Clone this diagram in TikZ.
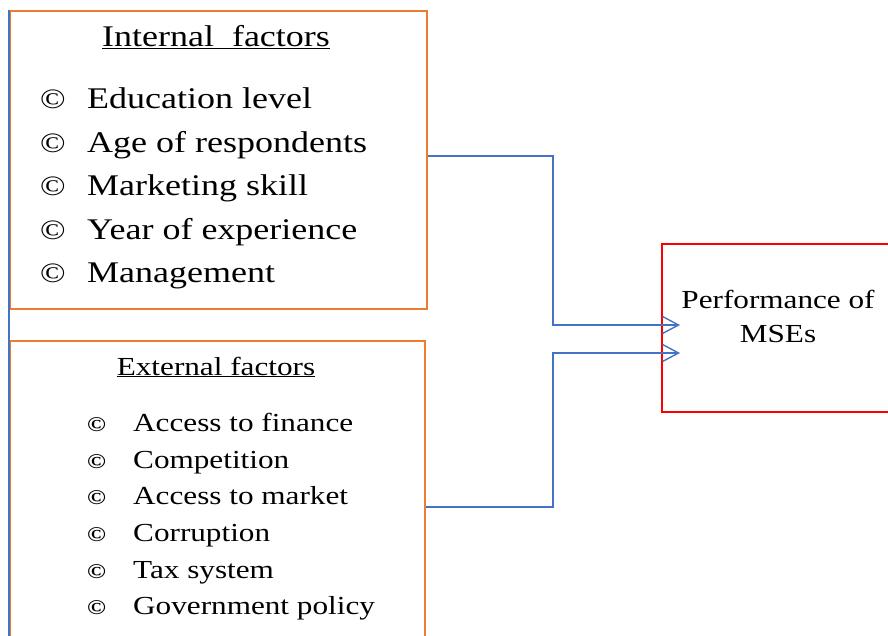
\documentclass[tikz,border=0pt]{standalone}
\usepackage{fontspec}
\setmainfont{Liberation Serif}[FakeStretch=1.2]
\usetikzlibrary{arrows.meta}
\definecolor{borange}{RGB}{237,125,49}
\definecolor{bblue}{RGB}{68,114,196}
\definecolor{bred}{RGB}{255,0,0}
\tikzset{
  frame/.style={draw=borange, line width=1.8pt, inner sep=0pt, anchor=north west},
  redframe/.style={draw=bred, line width=1.8pt, inner sep=0pt, anchor=north west},
  link/.style={draw=bblue, line width=1.6pt, -{Straight Barb[length=16pt,width=17pt,line width=1.4pt]}},
  bigitem/.style={anchor=base west, inner sep=0pt, font=\fontsize{30}{30}\selectfont},
  smallitem/.style={anchor=base west, inner sep=0pt, font=\fontsize{26}{26}\selectfont},
  bigsym/.style={anchor=base west, inner sep=0pt, font=\fontsize{28}{28}\selectfont},
  smallsym/.style={anchor=base west, inner sep=0pt, font=\fontsize{21}{21}\selectfont\bfseries},
  title/.style={anchor=base, inner sep=0pt},
}
\begin{document}
\begin{tikzpicture}[x=1pt,y=-1pt]
\useasboundingbox (0,0) rectangle (888,636);
\clip (0,0) rectangle (888,636);
% boxes
\node[frame, minimum width=417pt, minimum height=298pt] (internal) at (9,10) {};
\node[frame, minimum width=415pt, minimum height=320pt] (external) at (9,340) {};
\node[redframe, minimum width=260pt, minimum height=168pt] (perf) at (661,243) {};
\draw[draw=bblue, line width=1.8pt] (internal.north west) -- (external.south west);
% internal text
\node[title, font=\fontsize{30}{30}\selectfont] (ititle) at (216,47) {\underline{Internal\ \ factors}};
\node[bigsym] (is1) at (40,109) {©};
\node[bigitem] (i1) at (87,109) {Education level};
\node[bigsym] (is2) at (40,153) {©};
\node[bigitem] (i2) at (87,153) {Age of respondents};
\node[bigsym] (is3) at (40,196) {©};
\node[bigitem] (i3) at (87,196) {Marketing skill};
\node[bigsym] (is4) at (40,240) {©};
\node[bigitem] (i4) at (87,240) {Year of experience};
\node[bigsym] (is5) at (40,282) {©};
\node[bigitem] (i5) at (87,282) {Management};
% external text
\node[title, font=\fontsize{26}{26}\selectfont] (etitle) at (216,375) {\underline{External factors}};
\node[smallsym] (es1) at (87,431) {©};
\node[smallitem] (e1) at (133,431) {Access to finance};
\node[smallsym] (es2) at (87,468) {©};
\node[smallitem] (e2) at (133,468) {Competition};
\node[smallsym] (es3) at (87,504) {©};
\node[smallitem] (e3) at (133,504) {Access to market};
\node[smallsym] (es4) at (87,541) {©};
\node[smallitem] (e4) at (133,541) {Corruption};
\node[smallsym] (es5) at (87,578) {©};
\node[smallitem] (e5) at (133,578) {Tax system};
\node[smallsym] (es6) at (87,614) {©};
\node[smallitem] (e6) at (133,614) {Government policy};
% performance text
\node[title, font=\fontsize{26}{26}\selectfont] (p1) at (778,308) {Performance of};
\node[title, font=\fontsize{26}{26}\selectfont] (p2) at (778,342) {MSEs};
% connectors
\coordinate (t1) at (680,325);
\coordinate (t2) at (680,353);
\draw[link] (internal.east |- 0,156) -- (553,156) -- (553,325) -- (t1);
\draw[link] (external.east |- 0,507) -- (553,507) -- (553,353) -- (t2);
\end{tikzpicture}
\end{document}
